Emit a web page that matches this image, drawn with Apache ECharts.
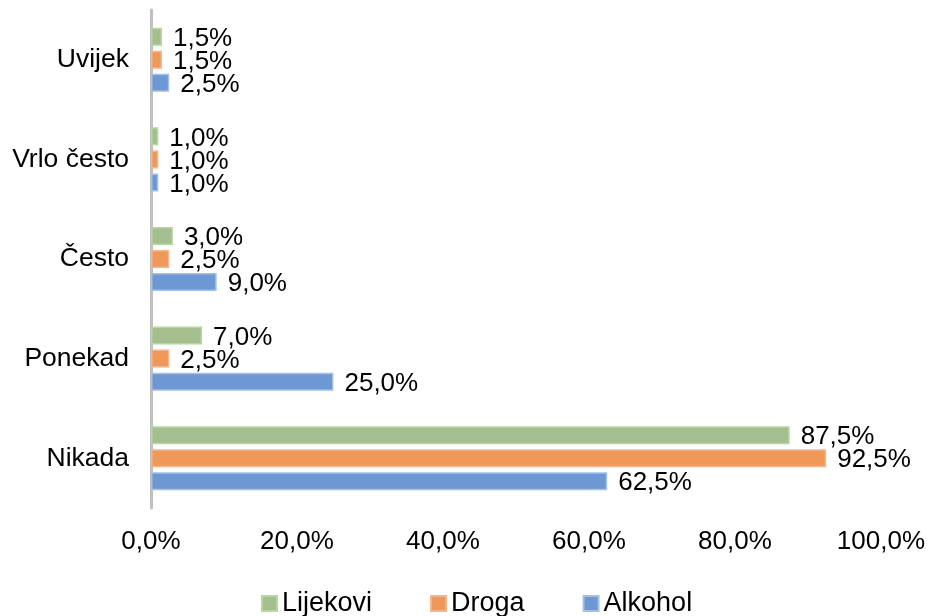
<!DOCTYPE html>
<html>
<head>
<meta charset="utf-8">
<script src="https://cdn.jsdelivr.net/npm/echarts@6/dist/echarts.min.js"></script>
<style>
  html, body { margin: 0; padding: 0; background: #fff; }
  #chart { width: 928px; height: 616px; }
</style>
</head>
<body>
<div id="chart"></div>
<script>
// kategorije odozdo prema gore
const categories = ['Nikada', 'Ponekad', 'Često', 'Vrlo često', 'Uvijek'];
const lijekovi = [87.5, 7.0, 3.0, 1.0, 1.5];
const droga = [92.5, 2.5, 2.5, 1.0, 1.5];
const alkohol = [62.5, 25.0, 9.0, 1.0, 2.5];
const xTicks = [0, 20, 40, 60, 80, 100];

const fmt = v => v.toFixed(1).replace('.', ',') + '%';
const FONT = 'Liberation Sans, Arial, sans-serif';

function makeSeries(name, data, fill, border) {
	return {
		name: name,
		type: 'bar',
		data: data,
		barWidth: 18,
		barGap: '28%',
		itemStyle: { color: fill, borderColor: border, borderWidth: 1.5 },
		label: {
			show: true,
			position: 'right',
			distance: 11,
			offset: [0, 2],
			formatter: p => fmt(p.value),
			fontFamily: FONT,
			fontSize: 26,
			color: '#000'
		}
	};
}

const chart = echarts.init(document.getElementById('chart'));
chart.setOption({
	animation: false,
	grid: { left: 151, right: 47, top: 10, bottom: 108 },
	legend: {
		data: ['Lijekovi', 'Droga', 'Alkohol'],
		left: 256,
		bottom: -6,
		itemWidth: 15,
		itemHeight: 15,
		itemGap: 58,
		icon: 'rect',
		textStyle: { fontFamily: FONT, fontSize: 27, color: '#000' }
	},
	xAxis: {
		type: 'value',
		min: xTicks[0],
		max: xTicks[xTicks.length - 1],
		interval: 20,
		axisLine: { show: false },
		axisTick: { show: false },
		splitLine: { show: false },
		axisLabel: {
			formatter: v => fmt(v),
			fontFamily: FONT,
			fontSize: 26,
			color: '#000',
			margin: 21
		}
	},
	yAxis: {
		type: 'category',
		data: categories,
		axisLine: { show: true, lineStyle: { color: '#bfbfbf', width: 3 } },
		axisTick: { show: false },
		axisLabel: {
			fontFamily: FONT,
			fontSize: 26.5,
			color: '#000',
			margin: 22,
			padding: [4, 0, 0, 0]
		}
	},
	series: [
		makeSeries('Lijekovi', lijekovi, '#a4be8f', '#b3d99e'),
		makeSeries('Droga', droga, '#f0985a', '#f6b48a'),
		makeSeries('Alkohol', alkohol, '#6e98d3', '#a2c0e8')
	]
});
</script>
</body>
</html>
